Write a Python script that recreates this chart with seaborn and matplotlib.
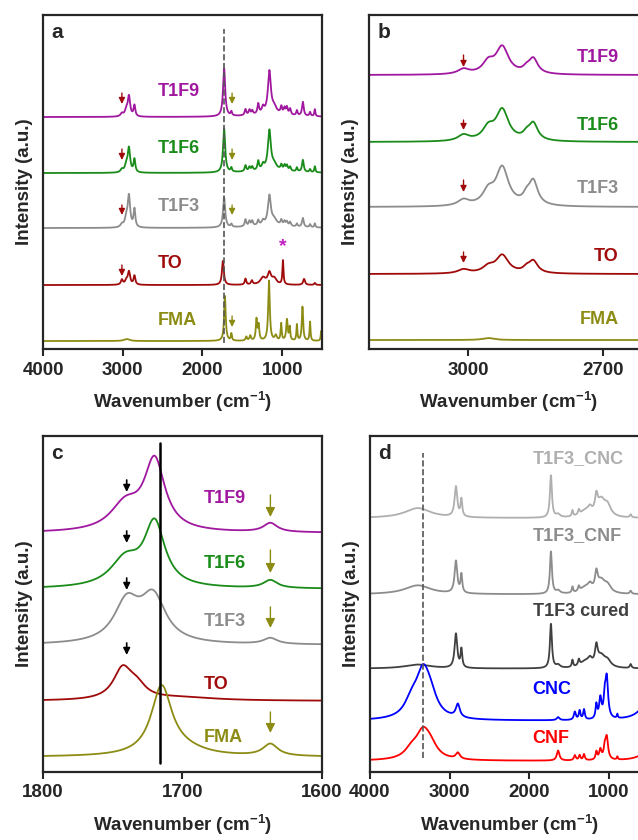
import numpy as np
import pandas as pd
import seaborn as sns
import matplotlib.pyplot as plt

# ---------------- data ----------------
# every spectrum is given as a band table: centre (cm-1), height, FWHM (cm-1)
# heights are in "pixel" units above the curve's own baseline offset

# panel a: full range 4000-500
a_names = ['T1F9', 'T1F6', 'T1F3', 'TO', 'FMA']
a_colors = ['#A0189F', '#1A8C1A', '#8C8C8C', '#A00A0A', '#8C8C14']
a_offsets = [232, 176, 121, 64, 8]

tf_centers = [3010, 2955, 2922, 2853, 1728, 1637, 1460, 1410, 1375, 1300, 1240,
              1160, 1100, 1010, 970, 940, 900, 815, 740, 650, 590, 1150]
tf_widths = [40, 40, 36, 26, 32, 20, 24, 24, 24, 24, 34,
             44, 70, 24, 24, 24, 24, 20, 26, 20, 16, 500]
t1f9_heights = [3, 6, 20, 11, 48, 4, 6, 5, 4, 10, 6, 42, 6, 7, 6, 7, 6, 5, 14, 4, 7, 3]
t1f6_heights = [3, 7, 24, 13, 44, 4, 6, 4, 4, 9, 5, 39, 5, 5, 5, 5, 4, 4, 12, 3, 6, 3]
t1f3_heights = [3, 9, 31, 18, 30, 3, 7, 5, 5, 5, 4, 29, 5, 5, 4, 4, 4, 3, 9, 3, 4, 3]

to_centers = [3010, 2955, 2922, 2853, 1743, 1460, 1380, 1240, 1160, 1100, 990, 725, 590]
to_heights = [5, 4, 13, 9, 24, 6, 4, 7, 11, 6, 24, 6, 2]
to_widths = [30, 35, 34, 26, 28, 22, 25, 80, 50, 70, 16, 28, 20]

fma_centers = [2950, 1718, 1637, 1450, 1400, 1322, 1295, 1165, 1080, 1012, 940, 905, 815, 745, 650, 510]
fma_heights = [2, 45, 7, 4, 5, 21, 15, 60, 5, 17, 21, 13, 16, 34, 19, 10]
fma_widths = [80, 24, 16, 22, 22, 20, 20, 24, 30, 16, 22, 16, 14, 20, 14, 14]

# panel b: C-H stretching region
b_offsets = [274, 207, 142, 75, 9]
ch_centers = [3010, 2955, 2924, 2870, 2855]
ch_widths = [30, 30, 34, 18, 24]
b_t1f9 = [5, 11, 27, 4, 15]
b_t1f6 = [6, 12, 31, 5, 17]
b_t1f3 = [6, 13, 38, 7, 24]
b_to = [4, 6, 18, 4, 12]
b_fma = [0, 2, 0, 0, 0]

# panel c: carbonyl region
c_offsets = [239, 183, 127, 71, 15]
c_t1f9 = ([1741, 1720, 1637], [26, 70, 9], [26, 18, 12])
c_t1f6 = ([1741, 1720, 1637], [27, 63, 8], [26, 18, 12])
c_t1f3 = ([1740, 1721, 1637], [40, 45, 6], [22, 22, 12])
c_to = ([1743, 1733, 1700], [30, 12, 3], [16, 16, 60])
c_fma = ([1715, 1700, 1637], [68, 6, 12], [18, 40, 13])

# panel d: cellulose composites
d_names = ['T1F3_CNC', 'T1F3_CNF', 'T1F3 cured', 'CNC', 'CNF']
d_colors = ['#AFAFAF', '#8C8C8C', '#404040', '#0000FF', '#FF0000']
d_offsets = [253, 177, 103, 51, 11]
dc_centers = [3400, 2922, 2853, 1730, 1640, 1460, 1380, 1300, 1240, 1160, 1100, 1020, 730]
dc_widths = [400, 40, 25, 30, 60, 20, 25, 150, 60, 40, 120, 100, 25]
d_cnc_comp = [10, 30, 17, 42, 3, 6, 5, 6, 6, 16, 16, 10, 3]
d_cnf_comp = [9, 32, 18, 42, 3, 6, 5, 6, 6, 17, 12, 7, 3]
d_cured = [4, 34, 18, 44, 3, 7, 6, 6, 6, 18, 11, 6, 4]
cel_centers = [3480, 3335, 3240, 2898, 1640, 1430, 1370, 1315, 1160, 1110, 1055, 1030, 897, 500]
cel_widths = [200, 220, 200, 60, 40, 30, 25, 25, 25, 35, 30, 40, 15, 250]
d_cnc = [14, 44, 15, 13, 3, 8, 9, 10, 14, 20, 18, 40, 4, 20]
d_cnf = [8, 26, 10, 6, 10, 5, 5, 6, 8, 10, 10, 22, 3, 10]

# arrows: (wavenumber, tail y, head y)
a_red_arrows = [(3010, 256, 245), (3010, 200, 189), (3010, 144, 134), (3010, 84, 73)]
a_olive_arrows = [(1628, 256, 245), (1628, 200, 189), (1628, 144, 134), (1628, 33, 22)]
b_red_arrows = [(3010, 294, 282), (3010, 229, 219), (3010, 169, 157), (3010, 97, 86)]
c_black_arrows = [(1740, 292, 280), (1740, 241, 229), (1740, 194, 182), (1740, 129, 117)]
c_olive_arrows = [(1637, 277, 255), (1637, 222, 199), (1637, 165, 144), (1637, 60, 39)]


def spectrum(x, centers, heights, widths):
    x = np.asarray(x, float)[:, None]
    c = np.asarray(centers, float)[None, :]
    h = np.asarray(heights, float)[None, :]
    w = np.asarray(widths, float)[None, :] / 2
    return (h / (1 + ((x - c) / w) ** 2)).sum(axis=1)


sns.set_style('ticks')
plt.rcParams['font.family'] = ['Liberation Sans', 'DejaVu Sans']
plt.rcParams['font.weight'] = 'bold'
plt.rcParams['mathtext.fontset'] = 'custom'
plt.rcParams['mathtext.rm'] = 'Liberation Sans:bold'
plt.rcParams['mathtext.bf'] = 'Liberation Sans:bold'
plt.rcParams['mathtext.default'] = 'rm'

fig = plt.figure(figsize=(6.38, 8.4), dpi=100)
ax_a = fig.add_axes([0.0674, 0.5845, 0.4373, 0.3976])
ax_b = fig.add_axes([0.5784, 0.5845, 0.4373, 0.3976])
ax_c = fig.add_axes([0.0674, 0.0810, 0.4373, 0.4000])
ax_d = fig.add_axes([0.5799, 0.0810, 0.4373, 0.4000])


def draw(ax, x, y, color):
    sns.lineplot(x=x, y=y, ax=ax, color=color, lw=1.3, sort=False, estimator=None)


def arrows(ax, items, color, scale=9, lw=1.0):
    for wn, y0, y1 in items:
        ax.annotate('', xy=(wn, y1), xytext=(wn, y0),
                    arrowprops=dict(arrowstyle='-|>', color=color, lw=lw,
                                    mutation_scale=scale, shrinkA=0, shrinkB=0))


def style(ax, xlim, ylim, ticks, letter):
    ax.set_xlim(*xlim)
    ax.set_ylim(*ylim)
    ax.set_xticks(ticks)
    ax.set_yticks([])
    ax.set_xlabel(r'Wavenumber (cm$^{-1}$)', fontsize=13.5, fontweight='bold', labelpad=8)
    ax.set_ylabel('Intensity (a.u.)', fontsize=13.5, fontweight='bold', labelpad=7)
    ax.tick_params(axis='x', length=5, width=1.5, pad=4, labelsize=13.5)
    for s in ax.spines.values():
        s.set_linewidth(1.6)
        s.set_visible(True)
    ax.text(0.03, 0.975, letter, transform=ax.transAxes, ha='left', va='top',
            fontsize=15, fontweight='bold')


# ---- panel a
wn_a = np.linspace(4000, 500, 3501)
a_tables = [(tf_centers, t1f9_heights, tf_widths), (tf_centers, t1f6_heights, tf_widths),
            (tf_centers, t1f3_heights, tf_widths), (to_centers, to_heights, to_widths),
            (fma_centers, fma_heights, fma_widths)]
for (cc, hh, ww), off, col in zip(a_tables, a_offsets, a_colors):
    draw(ax_a, wn_a, spectrum(wn_a, cc, hh, ww) + off, col)
ax_a.plot([1728, 1728], [6, 320], ls='--', color='#555555', lw=1.2, zorder=5)
a_label_pos = [(2300, 258), (2300, 201), (2300, 143), (2400, 86), (2320, 29)]
for name, col, (x, y) in zip(a_names, a_colors, a_label_pos):
    ax_a.text(x, y, name, color=col, fontsize=13, fontweight='bold', ha='center', va='center')
ax_a.text(990, 102, '*', color='#C020C0', fontsize=14, fontweight='bold', ha='center', va='center')
arrows(ax_a, a_red_arrows, '#A00A0A')
arrows(ax_a, a_olive_arrows, '#8C8C14')
style(ax_a, (4000, 500), (0, 334), [4000, 3000, 2000, 1000], 'a')

# ---- panel b
wn_b = np.linspace(3220, 2600, 1241)
for hh, off, col in zip([b_t1f9, b_t1f6, b_t1f3, b_to, b_fma], b_offsets, a_colors):
    draw(ax_b, wn_b, spectrum(wn_b, ch_centers, hh, ch_widths) + off, col)
b_label_pos = [292, 224, 161, 93, 30]
for name, col, y in zip(a_names, a_colors, b_label_pos):
    ax_b.text(2665, y, name, color=col, fontsize=13, fontweight='bold', ha='right', va='center')
arrows(ax_b, b_red_arrows, '#A00A0A')
style(ax_b, (3220, 2600), (0, 334), [3000, 2700], 'b')

# ---- panel c
wn_c = np.linspace(1800, 1600, 801)
for (cc, hh, ww), off, col in zip([c_t1f9, c_t1f6, c_t1f3, c_to, c_fma], c_offsets, a_colors):
    draw(ax_c, wn_c, spectrum(wn_c, cc, hh, ww) + off, col)
ax_c.plot([1716, 1716], [9, 329], color='black', lw=1.8, zorder=5)
c_label_pos = [273, 208, 150, 87, 34]
for name, col, y in zip(a_names, a_colors, c_label_pos):
    ax_c.text(1685, y, name, color=col, fontsize=13, fontweight='bold', ha='left', va='center')
arrows(ax_c, c_black_arrows, 'black', scale=10, lw=1.2)
arrows(ax_c, c_olive_arrows, '#8C8C14', scale=14, lw=1.0)
style(ax_c, (1800, 1600), (0, 336), [1800, 1700, 1600], 'c')

# ---- panel d
wn_d = np.linspace(4000, 500, 3501)
d_tables = [(dc_centers, d_cnc_comp, dc_widths), (dc_centers, d_cnf_comp, dc_widths),
            (dc_centers, d_cured, dc_widths), (cel_centers, d_cnc, cel_widths),
            (cel_centers, d_cnf, cel_widths)]
for (cc, hh, ww), off, col in zip(d_tables, d_offsets, d_colors):
    draw(ax_d, wn_d, spectrum(wn_d, cc, hh, ww) + off, col)
ax_d.plot([3330, 3330], [14, 318], ls='--', color='#555555', lw=1.2, zorder=5)
d_label_pos = [312, 236, 160, 82, 33]
for name, col, y in zip(d_names, d_colors, d_label_pos):
    ax_d.text(1960, y, name, color=col, fontsize=13, fontweight='bold', ha='left', va='center')
style(ax_d, (4000, 500), (0, 335), [4000, 3000, 2000, 1000], 'd')

fig.savefig('out.png', dpi=100)
